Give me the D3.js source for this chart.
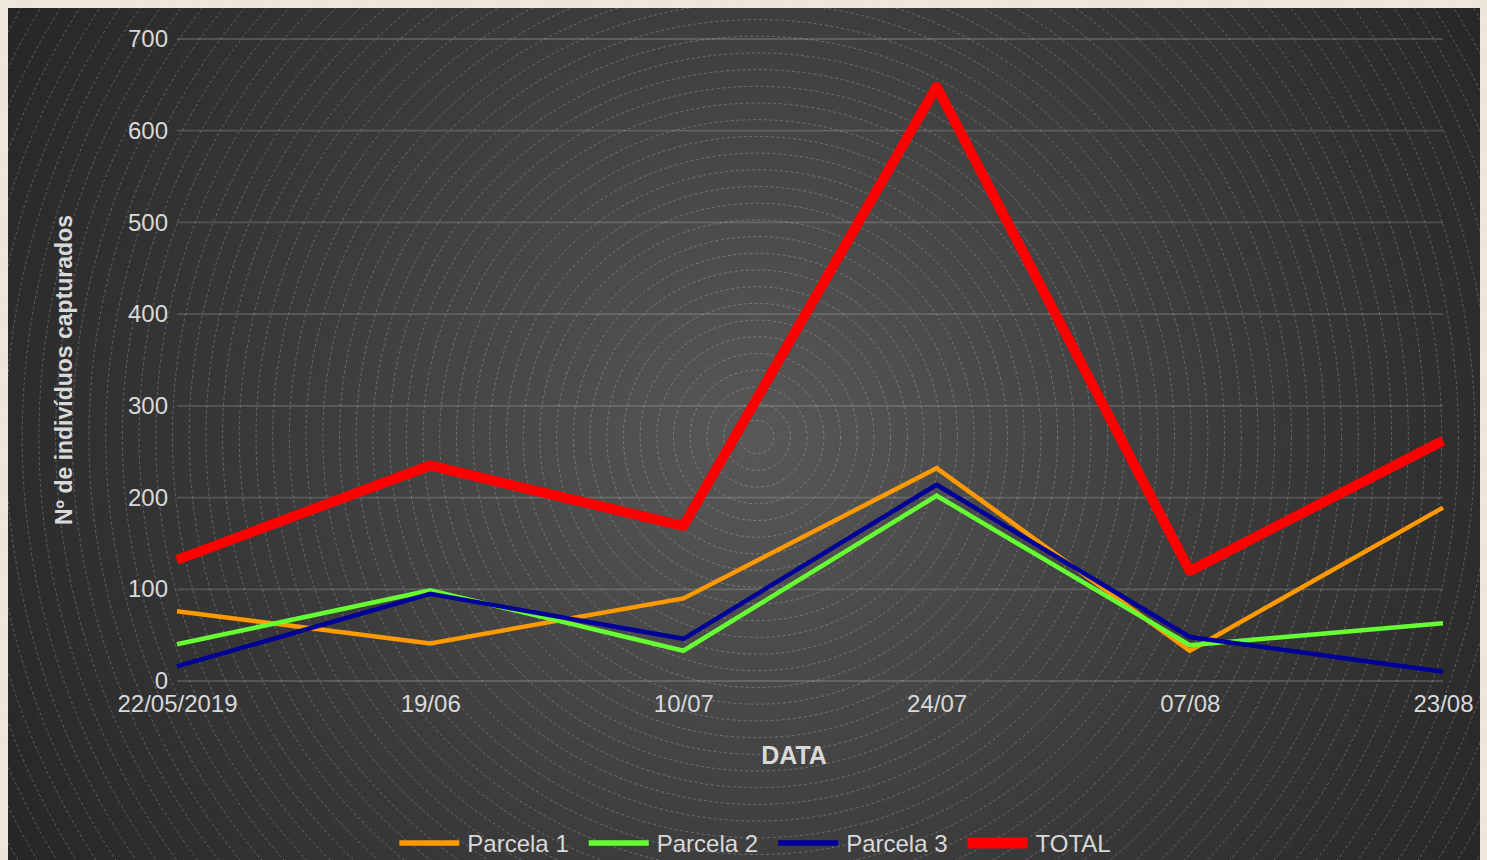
<!DOCTYPE html>
<html>
<head>
<meta charset="utf-8">
<script src="https://cdn.jsdelivr.net/npm/d3@7"></script>
<style>
  html, body { margin: 0; padding: 0; background: #ebe4d8; }
  svg { display: block; }
</style>
</head>
<body>
<div id="chart"></div>
<script>
// Capture dates and counts per plot
const categories = ["22/05/2019", "19/06", "10/07", "24/07", "07/08", "23/08"];
const parcela1 = [76, 41, 90, 232, 33, 189];
const parcela2 = [40, 99, 33, 202, 39, 63];
const parcela3 = [16, 95, 46, 214, 48, 10];
const total    = [132, 235, 169, 648, 120, 262];
const yTicks   = [0, 100, 200, 300, 400, 500, 600, 700];
const seriesNames = ["Parcela 1", "Parcela 2", "Parcela 3", "TOTAL"];

const W = 1487, H = 860;
const series = [
  { name: seriesNames[0], values: parcela1, color: "#ff9900", width: 4.5, join: "miter" },
  { name: seriesNames[1], values: parcela2, color: "#66ff33", width: 4.5, join: "miter" },
  { name: seriesNames[2], values: parcela3, color: "#000099", width: 4.5, join: "miter" },
  { name: seriesNames[3], values: total,    color: "#ff0000", width: 10,  join: "round" }
];

const svg = d3.select("#chart").append("svg")
  .attr("width", W).attr("height", H);

const defs = svg.append("defs");
const grad = defs.append("radialGradient")
  .attr("id", "bg").attr("gradientUnits", "userSpaceOnUse")
  .attr("cx", 757).attr("cy", 437).attr("r", 880);
grad.append("stop").attr("offset", "0%").attr("stop-color", "#585858");
grad.append("stop").attr("offset", "55%").attr("stop-color", "#3a3a3a");
grad.append("stop").attr("offset", "100%").attr("stop-color", "#252525");

// paper-like border
const paper = defs.append("filter").attr("id", "paper").attr("x", 0).attr("y", 0).attr("width", 1).attr("height", 1);
paper.append("feTurbulence").attr("type", "fractalNoise").attr("baseFrequency", 0.08).attr("numOctaves", 3).attr("seed", 4).attr("result", "n");
paper.append("feColorMatrix").attr("in", "n").attr("type", "matrix")
  .attr("values", "0 0 0 0 0.86  0 0 0 0 0.82  0 0 0 0 0.74  0 0 0 -1.2 0.9").attr("result", "c");
paper.append("feComposite").attr("in", "c").attr("in2", "SourceGraphic").attr("operator", "over");

svg.append("rect").attr("width", W).attr("height", H).attr("fill", "#ece5d9").attr("filter", "url(#paper)");

const panel = { x: 8, y: 8, w: 1472, h: 852 };
svg.append("rect")
  .attr("x", panel.x).attr("y", panel.y).attr("width", panel.w).attr("height", panel.h)
  .attr("fill", "url(#bg)");

defs.append("clipPath").attr("id", "panelClip")
  .append("rect").attr("x", panel.x).attr("y", panel.y).attr("width", panel.w).attr("height", panel.h);

// concentric dashed rings of the backdrop
const rings = svg.append("g").attr("clip-path", "url(#panelClip)");
rings.selectAll("circle")
  .data(d3.range(1, 54))
  .join("circle")
  .attr("cx", 757).attr("cy", 437)
  .attr("r", d => d * 16.7)
  .attr("fill", "none")
  .attr("stroke", "rgba(255,255,255,0.26)")
  .attr("stroke-width", 0.9)
  .attr("stroke-dasharray", "3,2.5");

const x = d3.scalePoint().domain(categories).range([177, 1443]);
const y = d3.scaleLinear().domain([0, 700]).range([681, 39]);

// gridlines
svg.append("g")
  .selectAll("line").data(yTicks).join("line")
  .attr("x1", 177).attr("x2", 1443)
  .attr("y1", d => y(d)).attr("y2", d => y(d))
  .attr("stroke", "rgba(255,255,255,0.16)")
  .attr("stroke-width", 1.8);

const font = "'Liberation Sans', Arial, sans-serif";
const tickColor = "#d9d9d9";

// y axis
const yAxis = svg.append("g").attr("transform", "translate(177,0)")
  .call(d3.axisLeft(y).tickValues(yTicks).tickSize(0).tickPadding(9));
yAxis.select(".domain").remove();
yAxis.selectAll("text").attr("fill", tickColor).style("font-family", font).style("font-size", "24px");

// x axis
const xAxis = svg.append("g").attr("transform", "translate(0,681)")
  .call(d3.axisBottom(x).tickSize(0).tickPadding(14));
xAxis.select(".domain").remove();
xAxis.selectAll("text").attr("fill", tickColor).style("font-family", font).style("font-size", "24px");

// axis titles
svg.append("text")
  .attr("x", 794).attr("y", 764)
  .attr("text-anchor", "middle")
  .attr("fill", tickColor)
  .style("font-family", font).style("font-size", "25px").style("font-weight", "bold")
  .text("DATA");

svg.append("text")
  .attr("transform", "translate(72,370) rotate(-90)")
  .attr("text-anchor", "middle")
  .attr("fill", tickColor)
  .style("font-family", font).style("font-size", "23px").style("font-weight", "bold")
  .text("Nº de indivíduos capturados");

// series lines
const line = d3.line().x((d, i) => x(categories[i])).y(d => y(d));
svg.append("g").selectAll("path").data(series).join("path")
  .attr("d", d => line(d.values))
  .attr("fill", "none")
  .attr("stroke", d => d.color)
  .attr("stroke-width", d => d.width)
  .attr("stroke-linejoin", d => d.join)
  .attr("stroke-linecap", "butt");

// legend
const legend = svg.append("g");
const items = legend.selectAll("g").data(series).join("g");
items.append("rect")
  .attr("x", 0).attr("y", d => -d.width / 2 - 0.5)
  .attr("width", 60).attr("height", d => d.width + 1)
  .attr("fill", d => d.color);
items.append("text")
  .attr("x", 68).attr("y", 9)
  .attr("fill", tickColor)
  .style("font-family", font).style("font-size", "24px")
  .text(d => d.name);
let offset = 0;
const positions = [];
items.each(function () {
  positions.push(offset);
  const tw = d3.select(this).select("text").node().getComputedTextLength();
  offset += 68 + tw + 20;
});
const legendWidth = offset - 20;
const legendStart = 755 - legendWidth / 2;
items.attr("transform", (d, i) => `translate(${legendStart + positions[i]},843)`);
</script>
</body>
</html>
